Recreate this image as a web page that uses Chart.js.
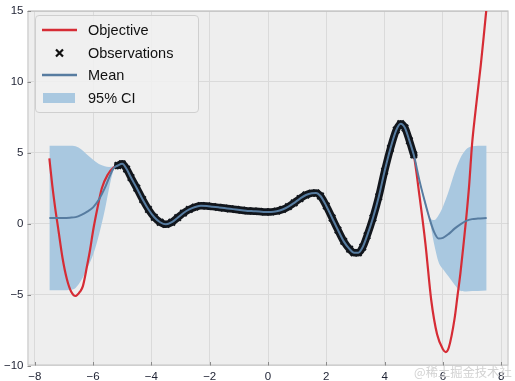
<!DOCTYPE html>
<html>
<head>
<meta charset="utf-8">
<script src="https://cdn.jsdelivr.net/npm/chart.js@4.4.1/dist/chart.umd.min.js"></script>
<style>
  body { margin: 0; background: #fff; }
  #wrap { position: relative; width: 515px; height: 381px; }
  #legend {
    position: absolute; left: 35px; top: 15px; width: 164px; height: 98px;
    box-sizing: border-box; border: 1px solid #cfcfcf; border-radius: 4px;
    background: rgba(240, 240, 240, 0.85);
    font-family: "Liberation Sans", Arial, sans-serif; font-size: 14.5px; color: #111;
  }
  .row { position: absolute; left: 0; height: 22px; width: 160px; }
  .row svg { position: absolute; left: 6px; top: 0; }
  .row span { position: absolute; left: 52px; top: 0; line-height: 22px; white-space: nowrap; }
  #mark {
    position: absolute; left: 414px; top: 363px; font-size: 12.3px;
    font-family: "Noto Sans CJK SC", sans-serif; color: rgba(205, 205, 205, 0.9);
  }
</style>
</head>
<body>
<div id="wrap">
  <canvas id="gp-chart" width="515" height="381"></canvas>
  <div id="legend">
    <div class="row" style="top:3px">
      <svg width="36" height="22"><line x1="0" y1="11" x2="35" y2="11" stroke="#d62c35" stroke-width="2.5"/></svg>
      <span>Objective</span>
    </div>
    <div class="row" style="top:25.5px">
      <svg width="36" height="22"><path d="M14 7.5 L21 14.5 M21 7.5 L14 14.5" stroke="#111" stroke-width="2.2"/></svg>
      <span>Observations</span>
    </div>
    <div class="row" style="top:48px">
      <svg width="36" height="22"><line x1="0" y1="11" x2="35" y2="11" stroke="#577ca0" stroke-width="2.5"/></svg>
      <span>Mean</span>
    </div>
    <div class="row" style="top:70.5px">
      <svg width="36" height="22"><rect x="1" y="6" width="32" height="10" fill="#a9c8e0"/></svg>
      <span>95% CI</span>
    </div>
  </div>
  <div id="mark">@稀土掘金技术社区</div>
</div>
<script>
const canvas = document.getElementById('gp-chart');

// objective outside the observed range
const objLeftX = [-7.5, -7.4, -7.3, -7.2, -7.05, -6.9, -6.75, -6.6, -6.45, -6.35, -6.2, -6.1, -6.0, -5.85, -5.7, -5.5, -5.3];
const objLeftY = [4.6, 2.7, 1.1, -0.3, -2.4, -3.9, -4.8, -5.1, -4.8, -4.4, -2.9, -1.8, -0.5, 1.1, 2.5, 3.45, 3.95];
const objRightX = [5.2, 5.4, 5.6, 5.8, 6.0, 6.1, 6.2, 6.4, 6.5, 6.6, 6.7, 6.8, 6.9, 7.0, 7.1, 7.2, 7.3, 7.4, 7.5];
const objRightY = [1.9, -1.4, -5.4, -7.8, -8.85, -9.05, -8.75, -6.7, -5.1, -3.5, -1.6, 0.4, 2.7, 5.6, 7.6, 9.4, 11.2, 13.2, 15.3];

// observations (dense band)
const obsX = [-5.15, -5.0, -4.85, -4.7, -4.5, -4.3, -4.1, -3.9, -3.7, -3.5, -3.3, -3.1, -2.9, -2.7, -2.5, -2.3, -2.1,
  -1.9, -1.7, -1.5, -1.3, -1.1, -0.9, -0.7, -0.5, -0.3, -0.1, 0.1, 0.3, 0.5, 0.7, 0.9, 1.1, 1.3, 1.5, 1.65, 1.8,
  2.0, 2.2, 2.4, 2.6, 2.8, 2.95, 3.1, 3.25, 3.4, 3.6, 3.8, 4.0, 4.2, 4.4, 4.55, 4.7, 4.85, 5.0];
const obsY = [4.1, 4.22, 3.85, 3.25, 2.5, 1.7, 1.0, 0.45, 0.1, -0.05, 0.1, 0.42, 0.75, 1.0, 1.17, 1.27, 1.25,
  1.2, 1.15, 1.1, 1.05, 1.0, 0.95, 0.9, 0.88, 0.86, 0.83, 0.83, 0.88, 1.0, 1.2, 1.47, 1.77, 2.02, 2.15, 2.17, 1.95,
  1.25, 0.4, -0.45, -1.25, -1.8, -2.05, -2.05, -1.65, -0.85, 0.4, 1.9, 3.7, 5.3, 6.6, 7.05, 6.75, 5.85, 4.85];

// GP mean outside the observed range
const meanLeftX = [-7.5, -7.0, -6.8, -6.6, -6.4, -6.2, -6.0, -5.8, -5.6, -5.45, -5.3];
const meanLeftY = [0.4, 0.4, 0.42, 0.46, 0.62, 0.85, 1.15, 1.7, 2.5, 3.25, 3.9];
const meanRightX = [5.2, 5.4, 5.55, 5.7, 5.85, 6.0, 6.2, 6.4, 6.6, 6.8, 7.0, 7.2, 7.5];
const meanRightY = [3.0, 1.4, 0.3, -0.6, -1.05, -1.0, -0.72, -0.35, -0.05, 0.2, 0.32, 0.36, 0.4];

// 95% CI bounds (null = gap where the band is closed)
const ciX = [-7.5, -7.0, -6.8, -6.6, -6.4, -6.2, -6.0, -5.8, -5.6, -5.45, -5.3, -5.15, 0,
  5.0, 5.2, 5.4, 5.55, 5.7, 5.85, 6.0, 6.2, 6.4, 6.6, 6.8, 7.0, 7.2, 7.5];
const ciUpper = [5.5, 5.5, 5.5, 5.45, 5.22, 4.85, 4.5, 4.2, 4.05, 4.0, 4.05, 4.1, null,
  4.85, 3.1, 1.6, 0.45, 0.25, 0.6, 1.2, 2.3, 3.6, 4.63, 5.25, 5.45, 5.5, 5.5];
const ciLower = [-4.7, -4.7, -4.66, -4.53, -3.98, -3.15, -2.2, -0.8, 0.95, 2.5, 3.75, 4.1, null,
  4.85, 2.9, 1.2, 0.15, -1.45, -2.7, -3.2, -3.74, -4.3, -4.73, -4.78, -4.75, -4.74, -4.72];

const xTicks = [-8, -6, -4, -2, 0, 2, 4, 6, 8];
const yTicks = [-10, -5, 0, 5, 10, 15];

const pts = (xs, ys) => xs.map((x, i) => ({ x: x, y: ys[i] }));
const fmt = v => (v < 0 ? '\u2212' + Math.abs(v) : String(v));

const objective = pts(objLeftX, objLeftY).concat(pts(obsX, obsY), pts(objRightX, objRightY));
const mean = pts(meanLeftX, meanLeftY).concat(pts(obsX, obsY), pts(meanRightX, meanRightY));

const frame = {
  id: 'frame',
  beforeDraw(chart) {
    const { ctx, chartArea: a } = chart;
    ctx.save();
    ctx.fillStyle = '#eeeeee';
    ctx.fillRect(a.left, a.top, a.right - a.left, a.bottom - a.top);
    ctx.restore();
  },
  beforeDatasetsDraw(chart) {
    const { ctx, chartArea: a, scales } = chart;
    ctx.save();
    ctx.strokeStyle = '#c4c4c4';
    ctx.lineWidth = 1;
    ctx.strokeRect(a.left + 0.5, a.top + 0.5, a.right - a.left - 1, a.bottom - a.top - 1);
    ctx.strokeStyle = '#8a8a8a';
    ctx.beginPath();
    xTicks.forEach(v => {
      const px = Math.round(scales.x.getPixelForValue(v)) + 0.5;
      ctx.moveTo(px, a.bottom); ctx.lineTo(px, a.bottom - 3.5);
    });
    yTicks.forEach(v => {
      const py = Math.round(scales.y.getPixelForValue(v)) + 0.5;
      ctx.moveTo(a.left, py); ctx.lineTo(a.left + 3.5, py);
    });
    ctx.stroke();
    ctx.restore();
  }
};

const tickFont = { family: '"Liberation Sans", Arial, sans-serif', size: 11.5 };

new Chart(canvas, {
  type: 'line',
  data: {
    datasets: [
      {
        label: 'Mean', data: mean, order: 0,
        borderColor: '#577ca0', borderWidth: 2, pointRadius: 0,
        cubicInterpolationMode: 'monotone'
      },
      {
        label: 'Observations', data: pts(obsX, obsY), order: 1,
        borderColor: '#12161c', borderWidth: 7.5, borderJoinStyle: 'round', borderCapStyle: 'round',
        pointStyle: 'crossRot', pointRadius: 4.5, pointBorderWidth: 2, pointBorderColor: '#12161c',
        cubicInterpolationMode: 'monotone'
      },
      {
        label: 'Objective', data: objective, order: 2,
        borderColor: '#d62c35', borderWidth: 2.2, pointRadius: 0,
        cubicInterpolationMode: 'monotone'
      },
      {
        label: '95% CI', data: pts(ciX, ciUpper), order: 3,
        borderWidth: 0, pointRadius: 0, borderColor: 'rgba(0,0,0,0)',
        backgroundColor: '#a9c8e0', fill: '+1',
        cubicInterpolationMode: 'monotone'
      },
      {
        label: 'ci-low', data: pts(ciX, ciLower), order: 4,
        borderWidth: 0, pointRadius: 0, borderColor: 'rgba(0,0,0,0)',
        fill: false, cubicInterpolationMode: 'monotone'
      }
    ]
  },
  options: {
    responsive: false,
    animation: false,
    layout: { padding: { left: 0, right: 4, top: 6, bottom: 0 } },
    plugins: { legend: { display: false }, tooltip: { enabled: false } },
    scales: {
      x: {
        type: 'linear', min: -8.25, max: 8.25,
        afterBuildTicks: s => { s.ticks = xTicks.map(v => ({ value: v })); },
        afterFit: s => { s.height = 15.5; },
        grid: { color: '#dadada', lineWidth: 1, drawTicks: false },
        border: { display: false },
        ticks: { padding: 4, color: '#1e2233', font: tickFont, callback: v => fmt(v), maxRotation: 0 }
      },
      y: {
        min: -10, max: 15,
        afterBuildTicks: s => { s.ticks = yTicks.map(v => ({ value: v })); },
        afterFit: s => { s.width = 27.5; },
        grid: { color: '#dadada', lineWidth: 1, drawTicks: false },
        border: { display: false },
        ticks: { padding: 4, color: '#1e2233', font: tickFont, callback: v => fmt(v) }
      }
    }
  },
  plugins: [frame]
});
</script>
</body>
</html>
